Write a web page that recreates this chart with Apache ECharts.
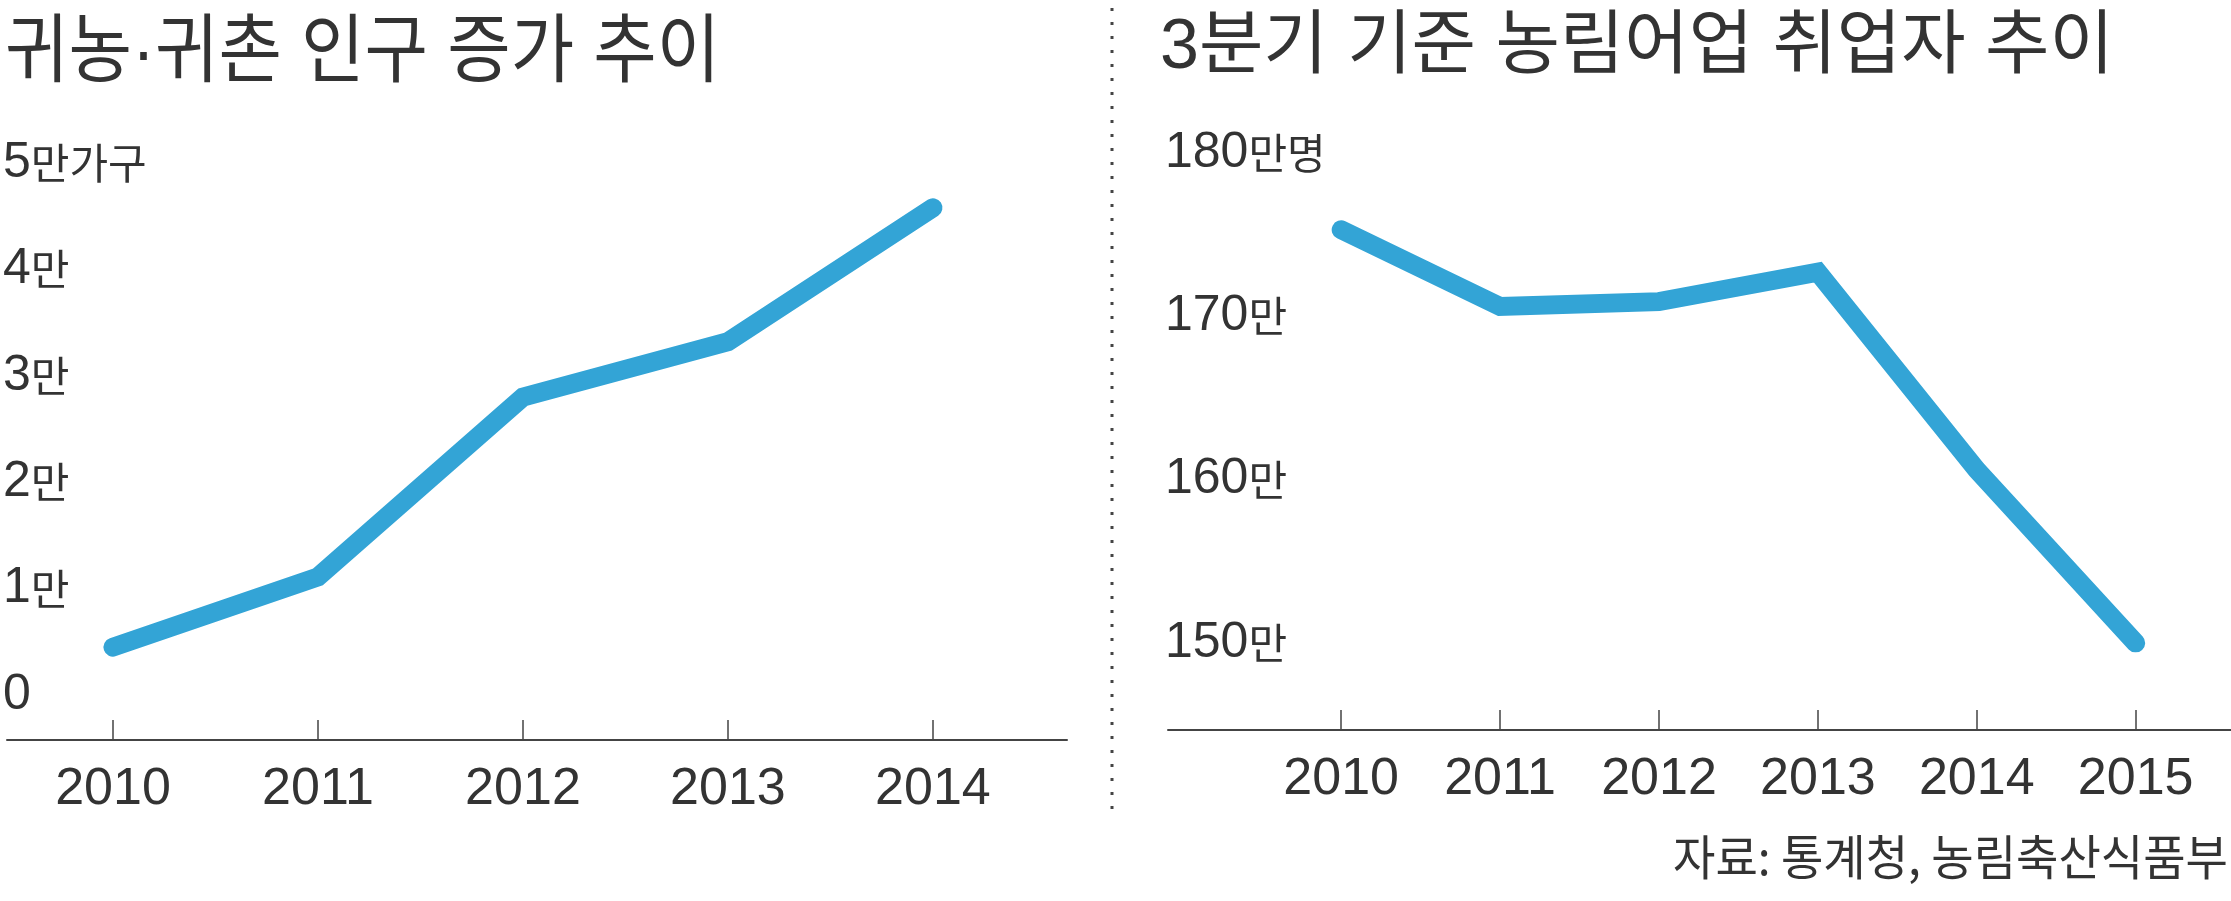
<!DOCTYPE html>
<html>
<head>
<meta charset="utf-8">
<script src="https://cdn.jsdelivr.net/npm/echarts@6/dist/echarts.min.js"></script>
<style>
  html, body { margin: 0; padding: 0; background: #fff; }
  #chart { width: 2231px; height: 901px; }
</style>
</head>
<body>
<div id="chart"></div>
<script>
// 귀농·귀촌 가구 (left)
const farmYears = [2010, 2011, 2012, 2013, 2014];
const farmHouseholds = [4500, 11100, 28000, 33200, 45800];
const farmTickLabels = ['0', '1만', '2만', '3만', '4만', '5만가구'];

// 3분기 농림어업 취업자, 만명 (right)
const workerYears = [2010, 2011, 2012, 2013, 2014, 2015];
const workers = [175.3, 170.6, 170.9, 172.7, 160.6, 150.0];
const workerTickLabels = ['150만', '160만', '170만', '180만명'];

const textColor = '#333';
const lineColor = '#33a4d6';
const latin = '"Liberation Sans Narrow", "Liberation Sans", sans-serif';
const korean = '"Noto Sans CJK KR", sans-serif';
// latin first so the middle dot and spaces stay narrow, hangul falls back
const mixed = '"Liberation Sans", "Noto Sans CJK KR", sans-serif';

function richLabel(label) {
  const m = label.match(/^(\d+)(.*)$/);
  return m[2] ? '{n|' + m[1] + '}{u|' + m[2] + '}' : '{n|' + m[1] + '}';
}

const labelRich = {
  n: { fontFamily: latin, fontSize: 50, color: textColor },
  u: { fontFamily: korean, fontSize: 42, color: textColor }
};

function xAxisFor(grid, years, min, max, offset) {
  return {
    gridIndex: grid,
    type: 'value',
    min: min,
    max: max,
    offset: offset,
    axisLine: { show: true, onZero: false, lineStyle: { color: '#444', width: 2 } },
    axisTick: { show: true, inside: true, length: 20, customValues: years, lineStyle: { color: '#444', width: 1.5 } },
    axisLabel: {
      customValues: years,
      margin: 24,
      fontFamily: latin,
      fontSize: 52,
      color: textColor,
      formatter: v => String(v)
    },
    splitLine: { show: false }
  };
}

const chart = echarts.init(document.getElementById('chart'));

chart.setOption({
  animation: false,
  backgroundColor: '#fff',
  grid: [
    { left: 7, right: 1164, top: 163, bottom: 206 },
    { left: 1168, right: 0, top: 153, bottom: 258 }
  ],
  xAxis: [
    xAxisFor(0, farmYears, 2009.483, 2014.654, 45),
    xAxisFor(1, workerYears, 2008.91, 2015.6, 87)
  ],
  yAxis: [
    {
      gridIndex: 0,
      type: 'value',
      min: 0,
      max: 50000,
      interval: 10000,
      axisLine: { show: false },
      axisTick: { show: false },
      splitLine: { show: false },
      axisLabel: {
        align: 'left',
        margin: 4,
        formatter: (v) => richLabel(farmTickLabels[Math.round(v / 10000)]),
        rich: labelRich
      }
    },
    {
      gridIndex: 1,
      type: 'value',
      min: 150,
      max: 180,
      interval: 10,
      axisLine: { show: false },
      axisTick: { show: false },
      splitLine: { show: false },
      axisLabel: {
        align: 'left',
        margin: 3,
        formatter: (v) => richLabel(workerTickLabels[Math.round((v - 150) / 10)]),
        rich: labelRich
      }
    }
  ],
  series: [
    {
      type: 'line',
      xAxisIndex: 0,
      yAxisIndex: 0,
      data: farmYears.map((y, i) => [y, farmHouseholds[i]]),
      symbol: 'none',
      lineStyle: { color: lineColor, width: 19, cap: 'round', join: 'miter' }
    },
    {
      type: 'line',
      xAxisIndex: 1,
      yAxisIndex: 1,
      data: workerYears.map((y, i) => [y, workers[i]]),
      symbol: 'none',
      lineStyle: { color: lineColor, width: 19, cap: 'round', join: 'miter' }
    }
  ],
  graphic: [
    {
      type: 'text',
      x: 5,
      y: 18,
      scaleX: 0.92,
      style: { text: '귀농·귀촌 인구 증가 추이', font: '75px ' + mixed, fill: textColor, verticalAlign: 'top' }
    },
    {
      type: 'text',
      x: 1160,
      y: 14,
      scaleX: 1.0,
      style: { text: '3분기 기준 농림어업 취업자 추이', font: '70px ' + mixed, fill: textColor, verticalAlign: 'top' }
    },
    {
      type: 'text',
      x: 2228,
      y: 833,
      scaleX: 0.96,
      style: { text: '자료: 통계청, 농림축산식품부', font: '48px ' + korean, fill: textColor, align: 'right', verticalAlign: 'top' }
    },
    {
      type: 'line',
      shape: { x1: 1112, y1: 8, x2: 1112, y2: 818 },
      style: { stroke: '#444', lineWidth: 3, lineDash: [3, 11] }
    }
  ]
});
</script>
</body>
</html>
